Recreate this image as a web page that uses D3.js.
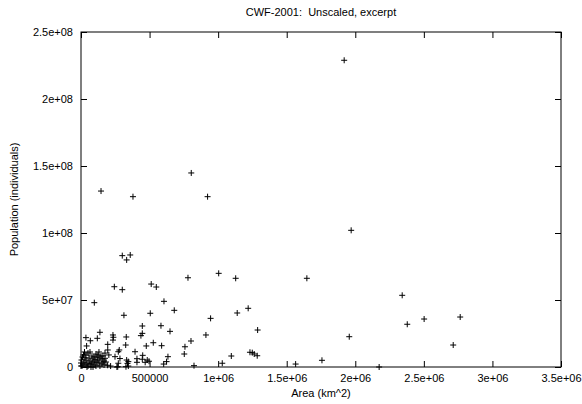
<!DOCTYPE html>
<html>
<head>
<meta charset="utf-8">
<script src="https://cdn.jsdelivr.net/npm/d3@7"></script>
<style>
  body { margin: 0; background: #fff; }
  svg text { font-family: "Liberation Sans", Arial, sans-serif; font-size: 11px; fill: #000; white-space: pre; }
</style>
</head>
<body>
<svg id="chart"></svg>
<script>
// area (km^2) and population (individuals)
let areas = [
  301000, 333000, 359000, 243000, 301000, 97000, 512000, 549000, 780000, 1004000,
  1128000, 605000, 680000, 313000, 505000, 945000, 1139000, 1219000, 1288000, 447000,
  447000, 437000, 583000, 649000, 911000, 802000, 758000, 753000, 527000, 588000,
  476000, 330000, 326000, 394000, 450000, 408000, 483000, 496000, 634000, 624000,
  603000, 824000, 1030000, 1096000, 1232000, 1249000, 1263000, 1285000, 233000, 236000,
  233000, 138000, 119000, 36000, 68000, 41000, 195000, 195000, 279000, 272000,
  333000, 345000, 272000, 216000, 248000, 175000, 447000, 268000, 328000, 1970000,
  1647000, 2342000, 2379000, 2502000, 1956000, 1565000, 1757000, 2174000, 2765000, 2714000,
  146000, 379000, 804000, 923000, 1919000, 468000, 408000, 339000, 345000, 284000,
  203000, 194000, 262000,
  7300, 14600, 21900, 29200, 36400, 43700, 51000, 58300, 65600, 72900,
  80200, 87500, 94800, 102000, 109000, 117000, 124000, 131000, 138000, 146000,
  153000, 160000, 168000, 175000, 3600, 10900, 18200, 25500, 36400, 51000,
  65600, 80200, 94800, 109000, 124000, 138000, 153000, 168000, 43700, 72900,
  102000, 131000, 182000, 0, 0, 29200, 58300, 87500, 117000, 160000
];
let populations = [
  83100000, 79900000, 83600000, 59900000, 57700000, 48000000, 61900000, 59700000, 66600000, 69900000,
  66200000, 49000000, 42300000, 38600000, 40100000, 36300000, 40300000, 43800000, 27600000, 30600000,
  25100000, 23400000, 30800000, 26600000, 23900000, 19400000, 15100000, 9700000, 18100000, 15900000,
  15700000, 22400000, 16400000, 11400000, 8700000, 6200000, 5200000, 4300000, 7700000, 4000000,
  2200000, 1000000, 2800000, 8200000, 11000000, 10700000, 9700000, 8400000, 23900000, 22200000,
  20100000, 25900000, 21400000, 21900000, 19600000, 15700000, 16900000, 12700000, 12700000, 11400000,
  5200000, 4000000, 2800000, 700000, 7700000, 6500000, 5800000, 200000, 200000, 102000000,
  66200000, 53500000, 31900000, 35800000, 22600000, 2200000, 5000000, 0, 37300000, 16400000,
  131300000, 127100000, 144800000, 127100000, 228900000, 3500000, 3500000, 2700000, 700000, 6300000,
  9000000, 1300000, 0,
  746000, 2240000, 3730000, 1490000, 5220000, 2990000, 746000, 6720000, 4480000, 2240000,
  8210000, 5970000, 3730000, 1490000, 9700000, 7460000, 5220000, 2990000, 746000, 8210000,
  5970000, 3730000, 1490000, 10400000, 5220000, 7460000, 8960000, 11200000, 8960000, 10400000,
  11200000, 2990000, 7460000, 746000, 8960000, 6720000, 2240000, 4480000, 0, 0,
  5220000, 11200000, 3730000, 2990000, 746000, 6720000, 2240000, 0, 3730000, 8210000
];

let xTicks = [0, 500000, 1000000, 1500000, 2000000, 2500000, 3000000, 3500000];
let xTickLabels = ['0', '500000', '1e+06', '1.5e+06', '2e+06', '2.5e+06', '3e+06', '3.5e+06'];
let yTicks = [0, 50000000, 100000000, 150000000, 200000000, 250000000];
let yTickLabels = ['0', '5e+07', '1e+08', '1.5e+08', '2e+08', '2.5e+08'];

let chartTitle = 'CWF-2001:  Unscaled, excerpt';
let xTitle = 'Area (km^2)';
let yTitle = 'Population (individuals)';

let width = 582, height = 404;
let margin = { top: 32, right: 21, bottom: 37, left: 81 };

let points = areas.map((a, i) => ({ area: a, pop: populations[i] }));

let x = d3.scaleLinear()
  .domain([0, 3500000])
  .range([margin.left, width - margin.right]);

let y = d3.scaleLinear()
  .domain([0, 250000000])
  .range([height - margin.bottom, margin.top]);

const svg = d3.select('#chart')
  .attr('width', width)
  .attr('height', height);

// inward ticks on all four sides, like gnuplot's mirrored tics
let tickLen = 6;

svg.append('g')
  .attr('transform', `translate(0,${height - margin.bottom})`)
  .call(d3.axisBottom(x).tickValues(xTicks).tickSize(-tickLen)
    .tickFormat((d, i) => xTickLabels[i]).tickPadding(7))
  .call(g => g.select('.domain').remove());

svg.append('g')
  .attr('transform', `translate(0,${margin.top})`)
  .call(d3.axisTop(x).tickValues(xTicks).tickSize(-tickLen).tickFormat(''))
  .call(g => g.select('.domain').remove());

svg.append('g')
  .attr('transform', `translate(${margin.left},0)`)
  .call(d3.axisLeft(y).tickValues(yTicks).tickSize(-tickLen)
    .tickFormat((d, i) => yTickLabels[i]).tickPadding(8))
  .call(g => g.select('.domain').remove());

svg.append('g')
  .attr('transform', `translate(${width - margin.right},0)`)
  .call(d3.axisRight(y).tickValues(yTicks).tickSize(-tickLen).tickFormat(''))
  .call(g => g.select('.domain').remove());

svg.selectAll('.tick text').style('font-size', '11px');

svg.append('rect')
  .attr('x', margin.left)
  .attr('y', margin.top)
  .attr('width', width - margin.left - margin.right)
  .attr('height', height - margin.top - margin.bottom)
  .attr('fill', 'none')
  .attr('stroke', '#000')
  .attr('stroke-width', 1);

// '+' markers
let s = 3;
svg.append('g')
  .selectAll('path')
  .data(points)
  .join('path')
  .attr('d', d => {
    let px = x(d.area), py = y(d.pop);
    return `M${px - s},${py}H${px + s}M${px},${py - s}V${py + s}`;
  })
  .attr('stroke', '#000')
  .attr('stroke-width', 1)
  .attr('fill', 'none');

svg.append('text')
  .attr('x', (margin.left + width - margin.right) / 2)
  .attr('y', 16)
  .attr('text-anchor', 'middle')
  .text(chartTitle);

svg.append('text')
  .attr('x', (margin.left + width - margin.right) / 2)
  .attr('y', 397)
  .attr('text-anchor', 'middle')
  .text(xTitle);

svg.append('text')
  .attr('transform', `translate(18,${(margin.top + height - margin.bottom) / 2}) rotate(-90)`)
  .attr('text-anchor', 'middle')
  .text(yTitle);
</script>
</body>
</html>
